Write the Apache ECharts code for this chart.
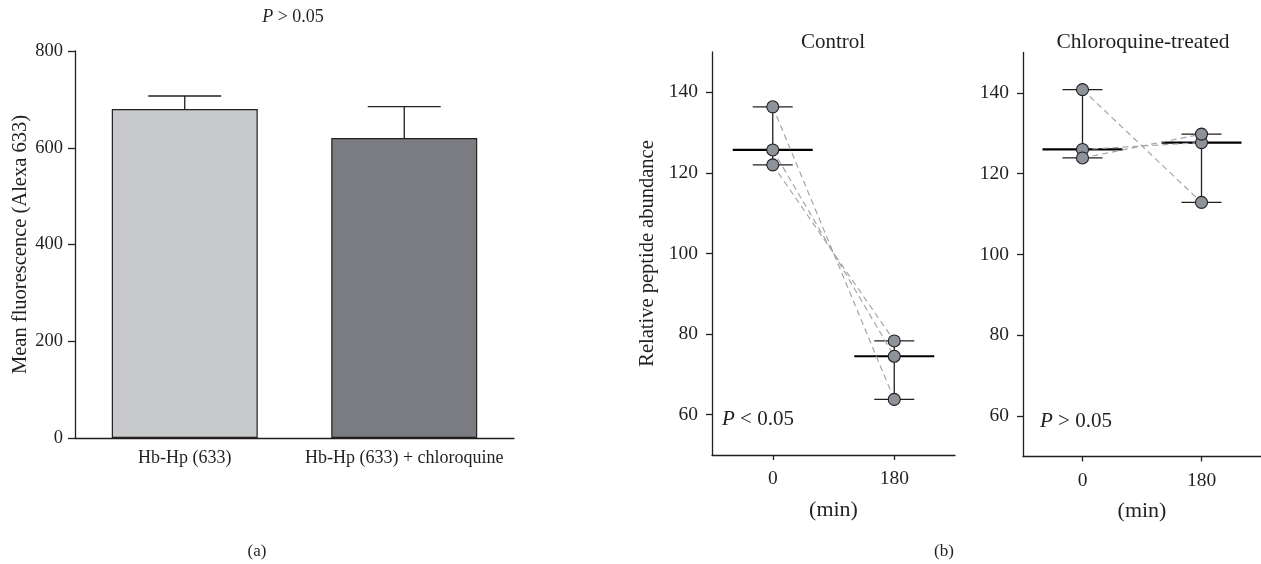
<!DOCTYPE html>
<html><head><meta charset="utf-8">
<script src="https://cdn.jsdelivr.net/npm/echarts@6/dist/echarts.min.js"></script>
<style>html,body{margin:0;padding:0;background:#fff}#c{width:1261px;height:564px}</style>
</head><body><div id="c"></div>
<script>
// ---- data ----
const barCategories = ['Hb-Hp (633)', 'Hb-Hp (633) + chloroquine'];
const barMeans = [680, 620];
const barUpper = [707, 685];
const barColors = ['#c8c9cb', '#7b7c81'];
const barTicks = [0, 200, 400, 600, 800];
const timePoints = [0, 180];
const control0 = [136.4, 125.7, 122.0];
const control180 = [63.8, 74.5, 78.3];
const chloro0 = [140.8, 126.0, 123.9];
const chloro180 = [112.9, 127.7, 129.8];
const abundanceTicks = [60, 80, 100, 120, 140];
const timeTicks = [0, 180];

// ---- styling ----
const FONT = 'Liberation Serif';
const FS_TICK_A = 18.5;
const FS_TICK_B = 19.5;
const FS_CAT = 18;
const FS_NAME = 20.5;
const INK = '#231f20';

function rangeData(arrs) {
  return timePoints.map((t, k) => {
    const s = arrs[k].slice().sort((a, b) => a - b);
    return [t, s[0], s[Math.floor(s.length / 2)], s[s.length - 1]];
  });
}
function rangeRender(params, api) {
  const t = api.value(0);
  const pMin = api.coord([t, api.value(1)]);
  const pMed = api.coord([t, api.value(2)]);
  const pMax = api.coord([t, api.value(3)]);
  const st = { stroke: INK, lineWidth: 1.3 };
  return {
    type: 'group', children: [
      { type: 'line', shape: { x1: pMax[0], y1: pMax[1], x2: pMin[0], y2: pMin[1] }, style: st },
      { type: 'line', shape: { x1: pMax[0] - 20, y1: pMax[1], x2: pMax[0] + 20, y2: pMax[1] }, style: st },
      { type: 'line', shape: { x1: pMin[0] - 20, y1: pMin[1], x2: pMin[0] + 20, y2: pMin[1] }, style: st },
      { type: 'line', shape: { x1: pMed[0] - 40, y1: pMed[1], x2: pMed[0] + 40, y2: pMed[1] }, style: { stroke: '#000', lineWidth: 2.2 } }
    ]
  };
}
function pairSeries(a0, a180, gi) {
  return a0.map((v, i) => ({
    type: 'line', xAxisIndex: gi, yAxisIndex: gi, z: 3,
    data: [[timePoints[0], v], [timePoints[1], a180[i]]],
    symbol: 'none', silent: true,
    lineStyle: { color: '#a2a6ad', width: 1.2, type: [6, 4] }
  }));
}
function pointSeries(a0, a180, gi) {
  const d = [];
  a0.forEach(v => d.push([timePoints[0], v]));
  a180.forEach(v => d.push([timePoints[1], v]));
  return {
    type: 'scatter', xAxisIndex: gi, yAxisIndex: gi, z: 5, data: d, symbolSize: 12,
    itemStyle: { color: '#8e929a', borderColor: INK, borderWidth: 1.1, opacity: 1 }
  };
}
const axisLineStyle = { lineStyle: { color: INK, width: 1.3 } };
const tickLabelB = { color: INK, fontFamily: FONT, fontSize: FS_TICK_B };
const nameStyle = { color: INK, fontFamily: FONT, fontSize: FS_NAME };
function timeAxis(gi) {
  return {
    type: 'value', gridIndex: gi, min: -90, max: 270,
    axisLine: { show: true, onZero: false, ...axisLineStyle },
    axisTick: { show: true, length: 5, customValues: timeTicks, lineStyle: { color: INK, width: 1.3 } },
    axisLabel: { ...tickLabelB, margin: 14, customValues: timeTicks },
    splitLine: { show: false },
    name: '(min)', nameLocation: 'middle', nameGap: 44,
    nameTextStyle: { ...nameStyle, fontSize: 22 }
  };
}
function abundAxis(gi, name) {
  return {
    type: 'value', gridIndex: gi, min: 50, max: 150,
    axisLine: { show: true, onZero: false, ...axisLineStyle },
    axisTick: { show: true, length: 6, customValues: abundanceTicks, lineStyle: { color: INK, width: 1.3 } },
    axisLabel: { ...tickLabelB, margin: 14, customValues: abundanceTicks },
    splitLine: { show: false },
    name: name, nameLocation: 'middle', nameGap: 54,
    nameTextStyle: { ...nameStyle }
  };
}
function txt(x, y, text, size, align) {
  return {
    type: 'text', x: x, y: y, silent: true,
    style: {
      text: text, fill: INK, font: size + 'px "' + FONT + '"',
      align: align || 'center', verticalAlign: 'middle',
      rich: { i: { fontStyle: 'italic', fontFamily: FONT, fontSize: size, fill: INK } }
    }
  };
}

const option = {
  animation: false,
  backgroundColor: '#fff',
  textStyle: { fontFamily: FONT },
  grid: [
    { left: 75, top: 51, width: 439, height: 387 },
    { left: 712, top: 52, width: 243, height: 403 },
    { left: 1023, top: 52.5, width: 241, height: 404 }
  ],
  xAxis: [
    {
      type: 'category', gridIndex: 0, data: barCategories,
      axisLine: { show: true, onZero: false, ...axisLineStyle }, axisTick: { show: false },
      axisLabel: { color: INK, fontFamily: FONT, fontSize: FS_CAT, margin: 11, interval: 0 }
    },
    timeAxis(1), timeAxis(2)
  ],
  yAxis: [
    {
      type: 'value', gridIndex: 0, min: barTicks[0], max: barTicks[barTicks.length - 1], interval: 200,
      axisLine: { show: true, onZero: false, ...axisLineStyle },
      axisTick: { show: true, length: 7, lineStyle: { color: INK, width: 1.3 } },
      axisLabel: { color: INK, fontFamily: FONT, fontSize: FS_TICK_A, margin: 12 },
      splitLine: { show: false },
      name: 'Mean fluorescence (Alexa 633)', nameLocation: 'middle', nameGap: 43,
      nameTextStyle: { ...nameStyle }
    },
    abundAxis(1, 'Relative peptide abundance'),
    abundAxis(2, '')
  ],
  series: [
    {
      type: 'bar', xAxisIndex: 0, yAxisIndex: 0, barWidth: '66.5%',
      data: barMeans.map((v, i) => ({ value: v, itemStyle: { color: barColors[i] } })),
      itemStyle: { borderColor: INK, borderWidth: 1.2 }
    },
    {
      type: 'custom', xAxisIndex: 0, yAxisIndex: 0, z: 3,
      data: barMeans.map((m, i) => [i, m, barUpper[i]]),
      renderItem: function (params, api) {
        const p0 = api.coord([api.value(0), api.value(1)]);
        const p1 = api.coord([api.value(0), api.value(2)]);
        const hw = api.size([1, 0])[0] * 0.665 / 4;
        const st = { stroke: INK, lineWidth: 1.3 };
        return {
          type: 'group', children: [
            { type: 'line', shape: { x1: p0[0], y1: p0[1], x2: p1[0], y2: p1[1] }, style: st },
            { type: 'line', shape: { x1: p1[0] - hw, y1: p1[1], x2: p1[0] + hw, y2: p1[1] }, style: st }
          ]
        };
      }
    },
    { type: 'custom', xAxisIndex: 1, yAxisIndex: 1, z: 2, data: rangeData([control0, control180]), renderItem: rangeRender },
    { type: 'custom', xAxisIndex: 2, yAxisIndex: 2, z: 2, data: rangeData([chloro0, chloro180]), renderItem: rangeRender },
    ...pairSeries(control0, control180, 1),
    ...pairSeries(chloro0, chloro180, 2),
    pointSeries(control0, control180, 1),
    pointSeries(chloro0, chloro180, 2)
  ],
  graphic: [
    txt(293, 17, '{i|P} > 0.05', 18),
    txt(833, 42, 'Control', 21),
    txt(1143, 42, 'Chloroquine-treated', 21.5),
    txt(722, 419, '{i|P} < 0.05', 21, 'left'),
    txt(1040, 421, '{i|P} > 0.05', 21, 'left'),
    txt(257, 552, '(a)', 17),
    txt(944, 552, '(b)', 17)
  ]
};
echarts.init(document.getElementById('c'), null, { renderer: 'canvas' }).setOption(option);
</script></body></html>
